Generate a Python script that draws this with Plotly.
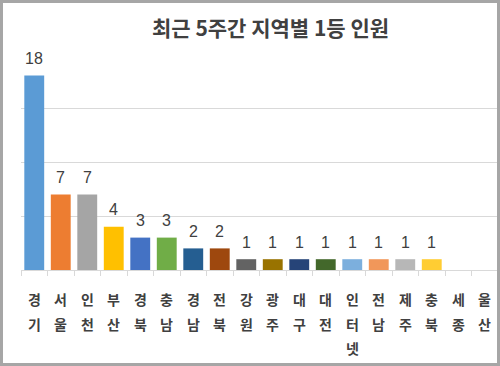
import plotly.graph_objects as go

regions = ["경기", "서울", "인천", "부산", "경북", "충남", "경남", "전북", "강원",
           "광주", "대구", "대전", "인터넷", "전남", "제주", "충북", "세종", "울산"]
winners = [18, 7, 7, 4, 3, 3, 2, 2, 1, 1, 1, 1, 1, 1, 1, 1, 0, 0]
bar_colors = ["#5B9BD5", "#ED7D31", "#A5A5A5", "#FFC000", "#4472C4", "#70AD47",
              "#255E91", "#9E480E", "#636363", "#997300", "#264478", "#43682B",
              "#7CAFDD", "#F1975A", "#B7B7B7", "#FFCD33", "#5B9BD5", "#ED7D31"]
title_text = "최근 5주간 지역별 1등 인원"

W, H = 500, 366
ML, MR, MT, MB = 21, 2, 54, 96
pw = W - ML - MR
ph = H - MT - MB

fig = go.Figure()
fig.add_trace(go.Bar(
    x=regions, y=winners,
    marker=dict(color=bar_colors, line=dict(width=0)),
    hoverinfo="x+y",
))

ann = []
# value labels
for r, v in zip(regions, winners):
    if v > 0:
        ann.append(dict(x=r, y=v, xref="x", yref="y", text=str(v), showarrow=False,
                        yanchor="middle", xanchor="center", yshift=17,
                        font=dict(family="Liberation Sans, Arial", size=16, color="#404040")))
# vertical category labels
for r in regions:
    for i, ch in enumerate(r):
        ann.append(dict(x=r, y=0, xref="x", yref="y", text="<b>" + ch + "</b>", showarrow=False,
                        yanchor="middle", xanchor="center", yshift=-(29 + 24.5 * i),
                        font=dict(family="Noto Sans CJK KR", size=14, color="#404040")))
# chart title (paper coords relative to plot area)
ann.append(dict(x=(270 - ML) / pw, y=(H - MB - 27) / ph, xref="paper", yref="paper",
                text="<b>" + title_text + "</b>",
                showarrow=False, xanchor="center", yanchor="middle",
                font=dict(family="Noto Sans CJK KR", size=21, color="#404040")))

fig.update_layout(
    width=W, height=H,
    margin=dict(l=ML, r=MR, t=MT, b=MB),
    paper_bgcolor="white", plot_bgcolor="white",
    showlegend=False,
    bargap=0.25,
    annotations=ann,
    xaxis=dict(type="category", showticklabels=False, showline=True, linecolor="#d9d9d9",
               linewidth=1, ticks="outside", tickson="boundaries", ticklen=5,
               tickcolor="#d9d9d9", showgrid=False, fixedrange=True),
    yaxis=dict(range=[0, 20], dtick=5, showticklabels=False, showgrid=True,
               gridcolor="#d9d9d9", gridwidth=1, zeroline=False, fixedrange=True),
    shapes=[dict(type="rect", xref="paper", yref="paper",
                 x0=(1.5 - ML) / pw, x1=(W - 1.5 - ML) / pw,
                 y0=(H - MB - (H - 1.5)) / ph, y1=(H - MB - 1.5) / ph,
                 line=dict(color="#a6a6a6", width=3), fillcolor="rgba(0,0,0,0)", layer="above")],
)

fig.write_html("out.html", config={"displayModeBar": False},
               post_script="document.body.style.margin='0';document.body.style.padding='0';")
